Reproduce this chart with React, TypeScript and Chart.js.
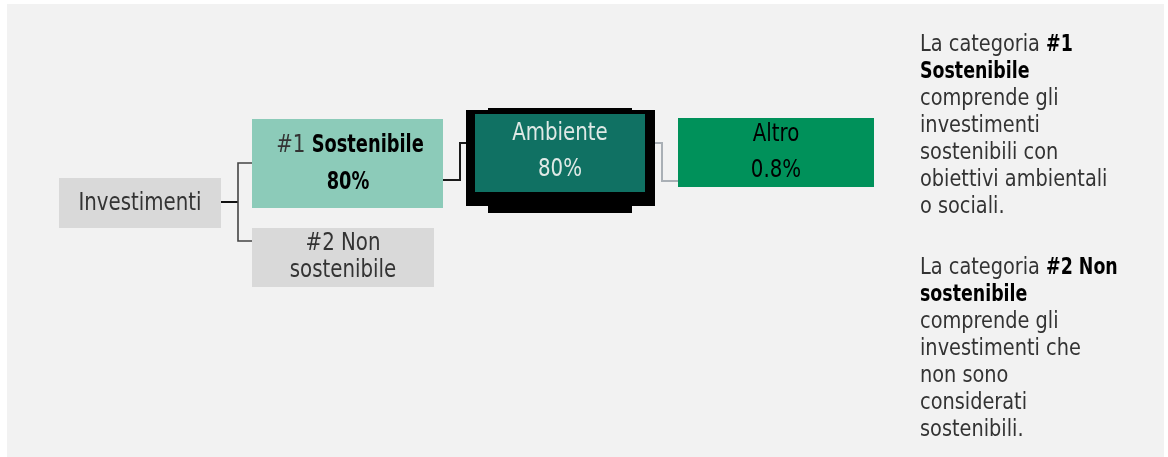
import React, { useEffect, useRef } from 'react';
import { Chart, registerables } from 'chart.js';

Chart.register(...registerables);

// ---- Data ----
const categories: string[] = ['Investimenti', '#1 Sostenibile', '#2 Non sostenibile', 'Ambiente', 'Altro'];
const shares: (number | null)[] = [null, 80, null, 80, 0.8];
const noteTitleLines: string[][] = [
  ['#1', 'Sostenibile'],
  ['#2 Non', 'sostenibile'],
];
const notePrefix = 'La categoria ';
const noteBodies: string[][] = [
  ['comprende gli', 'investimenti', 'sostenibili con', 'obiettivi ambientali', 'o sociali.'],
  ['comprende gli', 'investimenti che', 'non sono', 'considerati', 'sostenibili.'],
];

// ---- Layout (diagram coordinates, mapped through the chart scales) ----
const W = 1168;
const H = 457;
const FONT = "'DejaVu Sans Condensed', 'DejaVu Sans', sans-serif";
const BOX_FS = 25;
const BOX_SX = 0.88;
const NOTE_FS = 22.5;
const NOTE_SX = 0.955;
const BOLD_SX = 0.9;

type Seg = { t: string; bold?: boolean; color?: string };

const fmt = (v: number | null) => (v === null ? '' : `${v}%`);

const diagramPlugin = {
  id: 'diagram',
  afterDraw(chart: any) {
    const ctx: CanvasRenderingContext2D = chart.ctx;
    const xs = chart.scales.x;
    const ys = chart.scales.y;
    const X = (v: number) => xs.getPixelForValue(v);
    const Y = (v: number) => ys.getPixelForValue(v);
    const rect = (x0: number, y0: number, x1: number, y1: number, fill: string) => {
      ctx.fillStyle = fill;
      ctx.fillRect(X(x0), Y(y0), X(x1) - X(x0), Y(y1) - Y(y0));
    };
    const path = (pts: number[][], color: string, lw: number) => {
      ctx.beginPath();
      pts.forEach((p, i) => (i === 0 ? ctx.moveTo(X(p[0]), Y(p[1])) : ctx.lineTo(X(p[0]), Y(p[1]))));
      ctx.strokeStyle = color;
      ctx.lineWidth = lw;
      ctx.lineJoin = 'miter';
      ctx.stroke();
    };
    const fontOf = (s: Seg, size: number) => `${s.bold ? 'bold ' : ''}${size}px ${FONT}`;
    const richLine = (
      segs: Seg[],
      x: number,
      baseline: number,
      size: number,
      sx: number,
      align: 'center' | 'left',
      defColor: string
    ) => {
      ctx.textBaseline = 'alphabetic';
      ctx.textAlign = 'left';
      const widths = segs.map((s) => {
        ctx.font = fontOf(s, size);
        const k = sx * (s.bold ? BOLD_SX : 1);
        return { w: ctx.measureText(s.t).width * k, k };
      });
      const total = widths.reduce((a, b) => a + b.w, 0);
      let cx = align === 'center' ? X(x) - total / 2 : X(x);
      segs.forEach((s, i) => {
        ctx.font = fontOf(s, size);
        ctx.fillStyle = s.color || defColor;
        ctx.save();
        ctx.translate(cx, Y(baseline));
        ctx.scale(widths[i].k, 1);
        ctx.fillText(s.t, 0, 0);
        ctx.restore();
        cx += widths[i].w;
      });
    };

    ctx.save();
    // background panel
    rect(7, 4, 1164, 457, '#f2f2f2');

    // connectors
    path([[221, 202], [238, 202]], '#111111', 2);
    path([[252, 163], [238, 163], [238, 241], [252, 241]], '#444444', 1.6);
    path([[443, 180], [460, 180], [460, 143], [466, 143]], '#1a1a1a', 2);
    path([[655, 143], [662, 143], [662, 181], [678, 181]], '#a9afb5', 2);

    // boxes
    rect(59, 178, 221, 228, '#d9d9d9');
    rect(252, 119, 443, 208, '#8ccbb9');
    rect(252, 228, 434, 287, '#d9d9d9');
    rect(466, 110, 655, 206, '#000000');
    rect(488, 108, 632, 213, '#000000');
    rect(475, 114, 645, 192, '#107163');
    rect(678, 118, 874, 187, '#00915a');

    const dark = '#333333';
    // Investimenti
    richLine([{ t: categories[0] }], 140, 209.5, BOX_FS, BOX_SX, 'center', dark);
    // #1 Sostenibile
    const c1 = categories[1].split(' ');
    richLine([{ t: c1[0] + ' ' }, { t: c1.slice(1).join(' '), bold: true, color: '#000' }], 350, 151.5, BOX_FS, BOX_SX, 'center', dark);
    richLine([{ t: fmt(shares[1]), bold: true, color: '#000' }], 348, 189, BOX_FS, BOX_SX, 'center', dark);
    // #2 Non sostenibile
    const c2 = categories[2].split(' ');
    richLine([{ t: c2.slice(0, 2).join(' ') }], 343, 250, BOX_FS, BOX_SX, 'center', dark);
    richLine([{ t: c2.slice(2).join(' ') }], 343, 277, BOX_FS, BOX_SX, 'center', dark);
    // Ambiente
    richLine([{ t: categories[3] }], 560, 140, BOX_FS, BOX_SX, 'center', '#dfe9e6');
    richLine([{ t: fmt(shares[3]) }], 560, 176, BOX_FS, BOX_SX, 'center', '#dfe9e6');
    // Altro
    richLine([{ t: categories[4] }], 776, 141, BOX_FS, BOX_SX, 'center', '#000');
    richLine([{ t: fmt(shares[4]) }], 776, 177, BOX_FS, BOX_SX, 'center', '#000');

    // notes
    const starts = [51, 273.5];
    noteTitleLines.forEach((title, i) => {
      let b = starts[i];
      richLine([{ t: notePrefix }, { t: title[0], bold: true, color: '#000' }], 920, b, NOTE_FS, NOTE_SX, 'left', dark);
      b += 27;
      richLine([{ t: title[1], bold: true, color: '#000' }], 920, b, NOTE_FS, NOTE_SX, 'left', dark);
      noteBodies[i].forEach((line) => {
        b += 27;
        richLine([{ t: line }], 920, b, NOTE_FS, NOTE_SX, 'left', dark);
      });
    });
    ctx.restore();
  },
};

export default function App() {
  const ref = useRef<HTMLCanvasElement | null>(null);
  useEffect(() => {
    document.body.style.margin = '0';
    if (!ref.current) return;
    const chart = new Chart(ref.current, {
      type: 'scatter',
      data: { datasets: [{ data: [], showLine: false }] },
      options: {
        animation: false,
        responsive: false,
        maintainAspectRatio: false,
        layout: { padding: 0 },
        plugins: { legend: { display: false }, tooltip: { enabled: false } },
        scales: {
          x: { type: 'linear', min: 0, max: W, display: false },
          y: { type: 'linear', min: 0, max: H, reverse: true, display: false },
        },
      },
      plugins: [diagramPlugin],
    });
    return () => chart.destroy();
  }, []);
  return (
    <div style={{ width: W, height: H, background: '#ffffff' }}>
      <canvas ref={ref} width={W} height={H} style={{ display: 'block', width: W, height: H }} />
    </div>
  );
}
